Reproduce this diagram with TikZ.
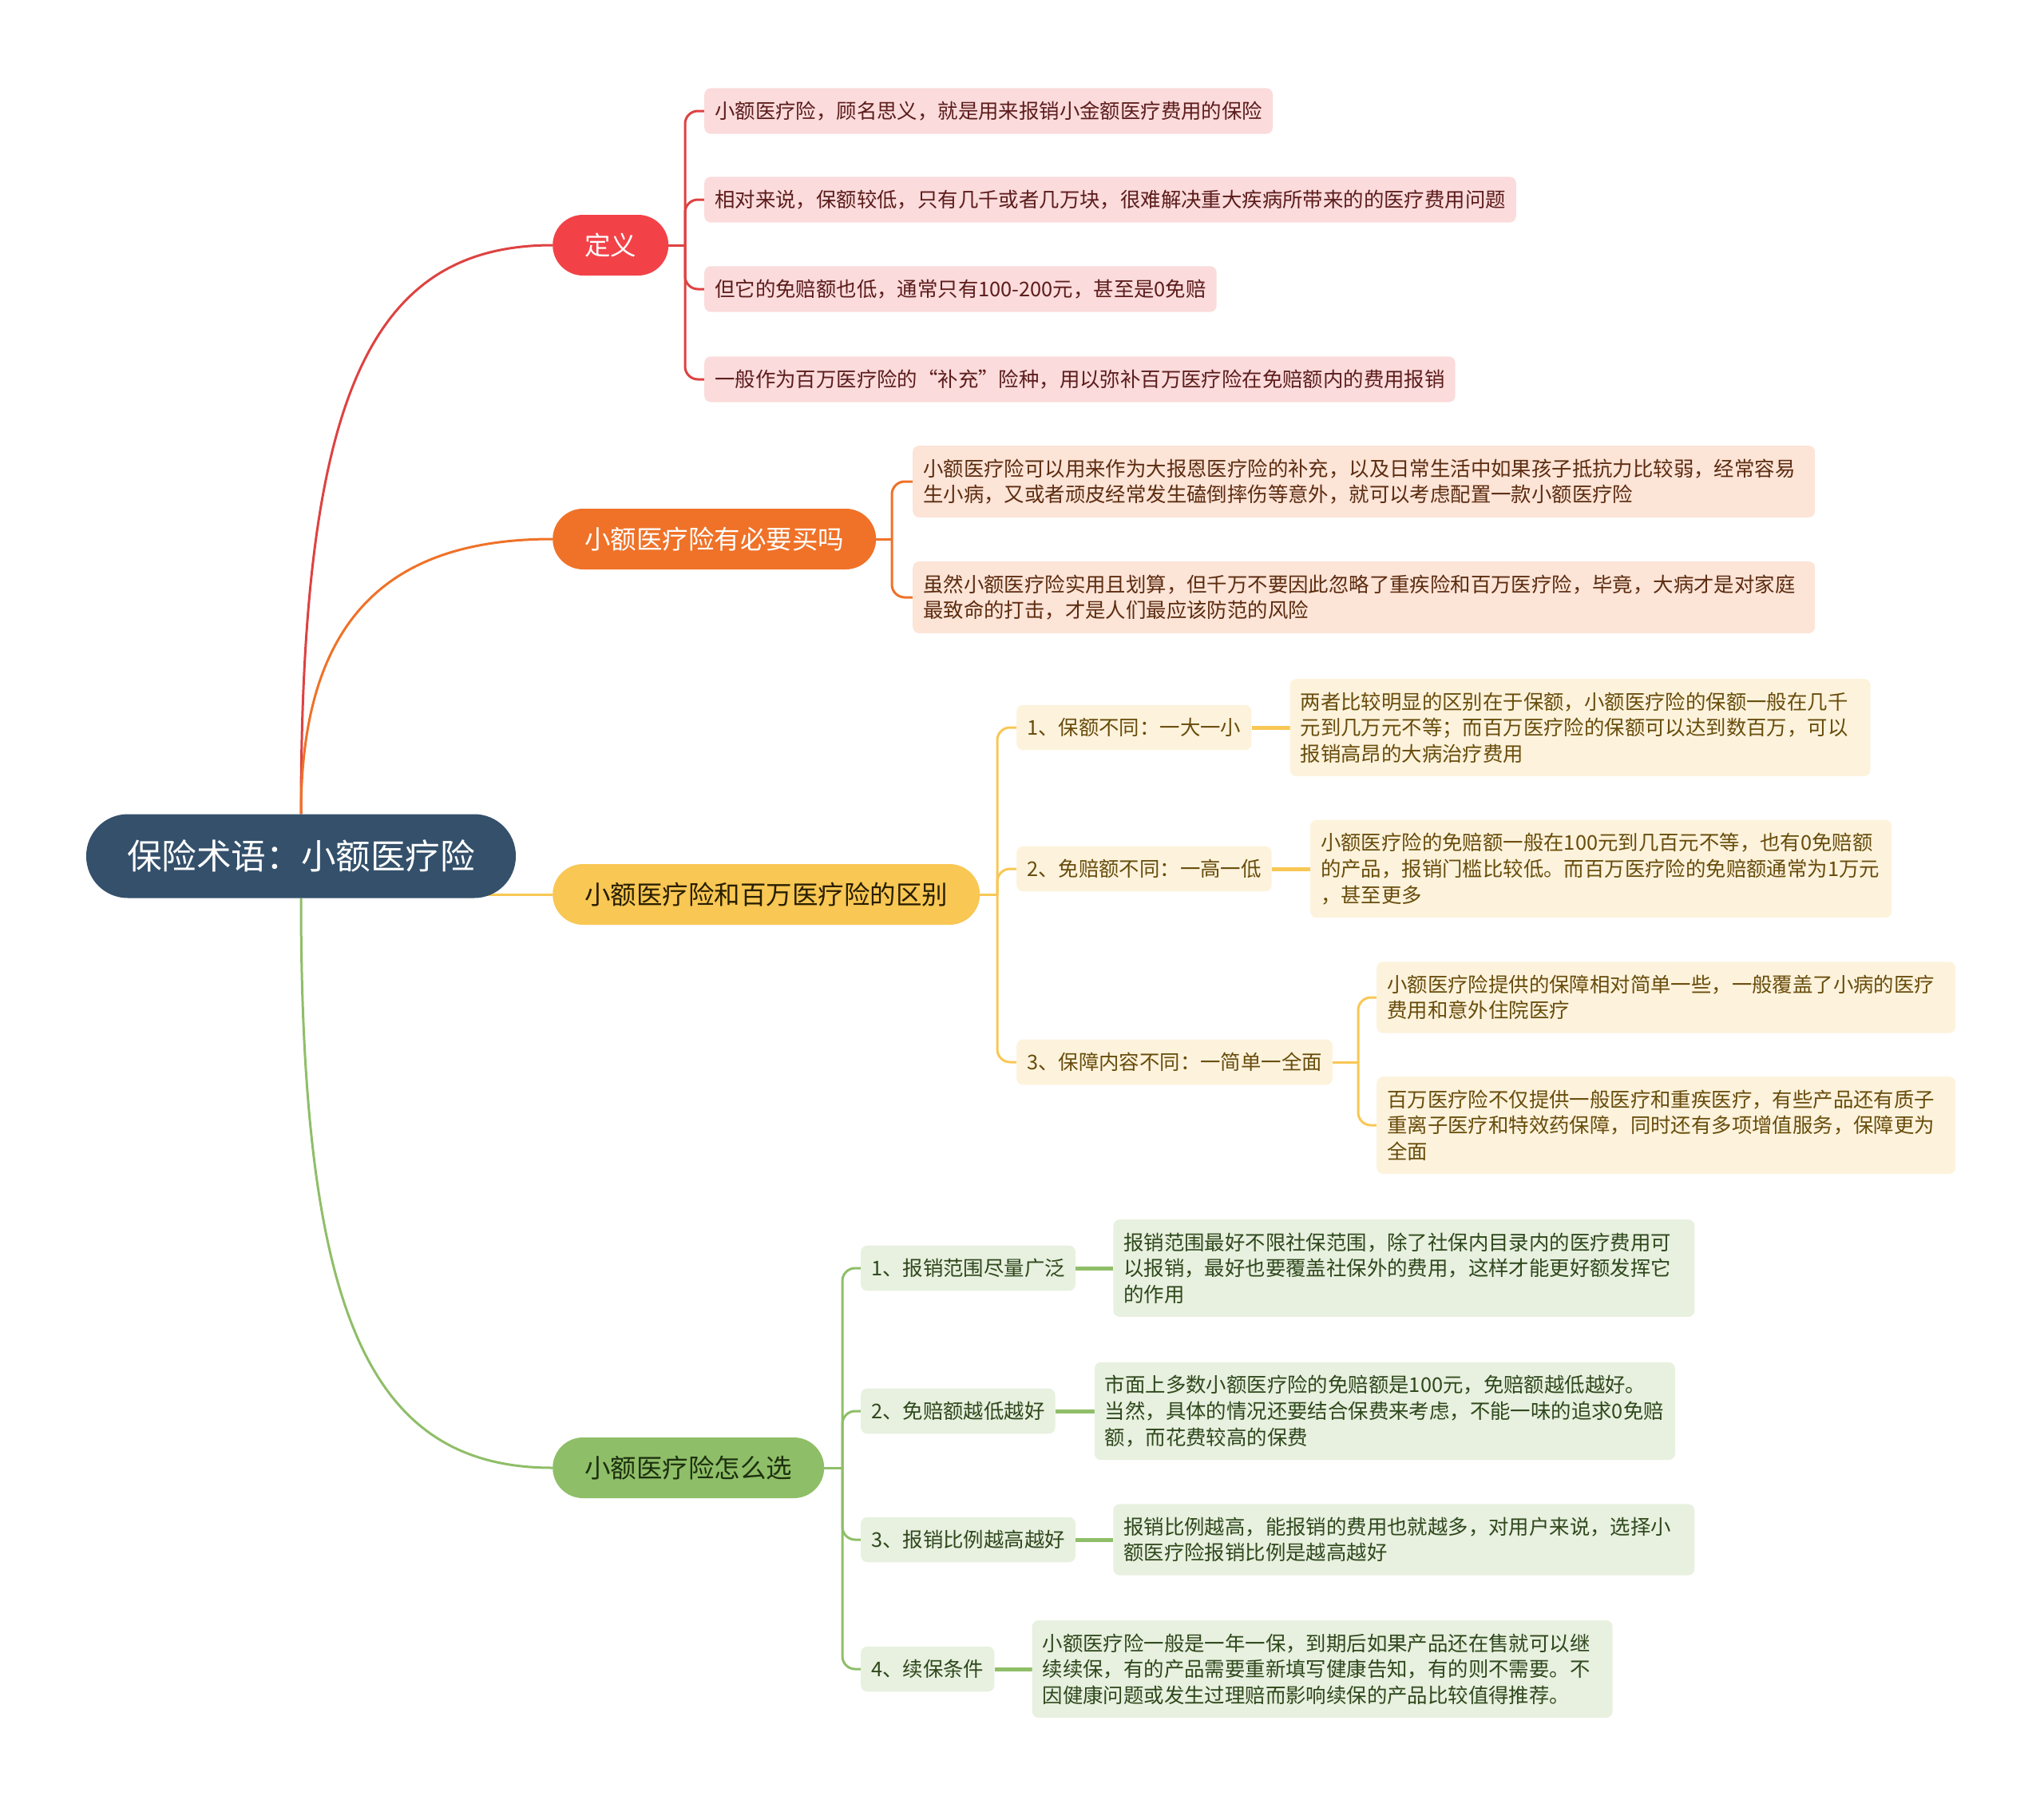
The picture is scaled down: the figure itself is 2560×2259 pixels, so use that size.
\documentclass[tikz,border=0pt]{standalone}
\usepackage{fontspec}
\setmainfont{Noto Sans CJK SC}
\usepackage{tikz}
\usetikzlibrary{positioning, backgrounds}
\definecolor{rootblue}{RGB}{52,80,107}
\definecolor{defred}{RGB}{242,66,72}
\definecolor{redline}{RGB}{222,66,66}
\definecolor{redfill}{RGB}{251,219,219}
\definecolor{redtext}{RGB}{92,28,28}
\definecolor{orgmain}{RGB}{239,114,40}
\definecolor{orgfill}{RGB}{252,228,215}
\definecolor{orgtext}{RGB}{92,44,16}
\definecolor{yelmain}{RGB}{248,199,84}
\definecolor{yelfill}{RGB}{253,243,220}
\definecolor{yeltext}{RGB}{104,76,12}
\definecolor{yeldark}{RGB}{40,30,0}
\definecolor{grnmain}{RGB}{143,190,104}
\definecolor{grnfill}{RGB}{232,240,223}
\definecolor{grntext}{RGB}{46,72,28}
\definecolor{grndark}{RGB}{28,48,14}

\begin{document}
\begin{tikzpicture}[x=1pt, y=-1pt,
    root/.style={rounded corners=52pt, fill=rootblue, text=white, minimum height=105pt, inner xsep=51pt, font=\fontsize{43.6}{52}\selectfont},
    topic/.style={rounded corners=38pt, minimum height=76pt, inner xsep=40pt, anchor=west, font=\fontsize{32.5}{40}\selectfont},
    sub/.style={rounded corners=8pt, inner xsep=13pt, inner ysep=16.5pt, anchor=west, font=\fontsize{25.4}{32.6}\selectfont},
    leaf/.style={sub, align=left},
    link/.style={line width=3pt, rounded corners=16pt},
    twig/.style={line width=5pt},
  ]
  \useasboundingbox (0,0) rectangle (2560,2259);

  \node[root] (root) at (377,1072) {保险术语：小额医疗险};

  \node[topic, fill=defred, text=white] (dy) at (692,307) {定义};
  \node[topic, fill=orgmain, text=white] (bmm) at (692,675) {小额医疗险有必要买吗};
  \node[topic, fill=yelmain, text=yeldark] (qb) at (692,1120) {小额医疗险和百万医疗险的区别};
  \node[topic, fill=grnmain, text=grndark] (zmx) at (692,1838) {小额医疗险怎么选};

  \node[leaf, fill=redfill, text=redtext] (dy1) at (882,139) {小额医疗险，顾名思义，就是用来报销小金额医疗费用的保险};
  \node[leaf, fill=redfill, text=redtext] (dy2) at (882,250) {相对来说，保额较低，只有几千或者几万块，很难解决重大疾病所带来的的医疗费用问题};
  \node[leaf, fill=redfill, text=redtext] (dy3) at (882,362) {但它的免赔额也低，通常只有100-200元，甚至是0免赔};
  \node[leaf, fill=redfill, text=redtext] (dy4) at (882,475) {一般作为百万医疗险的“补充”险种，用以弥补百万医疗险在免赔额内的费用报销};

  \node[leaf, fill=orgfill, text=orgtext, text width=1104pt] (bmm1) at (1143,603) {小额医疗险可以用来作为大报恩医疗险的补充，以及日常生活中如果孩子抵抗力比较弱，经常容易\\生小病，又或者顽皮经常发生磕倒摔伤等意外，就可以考虑配置一款小额医疗险};
  \node[leaf, fill=orgfill, text=orgtext, text width=1104pt] (bmm2) at (1143,748) {虽然小额医疗险实用且划算，但千万不要因此忽略了重疾险和百万医疗险，毕竟，大病才是对家庭\\最致命的打击，才是人们最应该防范的风险};

  \node[sub, fill=yelfill, text=yeltext] (qb1) at (1273,911) {1、保额不同：一大一小};
  \node[sub, fill=yelfill, text=yeltext] (qb2) at (1273,1088) {2、免赔额不同：一高一低};
  \node[sub, fill=yelfill, text=yeltext] (qb3) at (1273,1330) {3、保障内容不同：一简单一全面};
  \node[leaf, fill=yelfill, text=yeltext, text width=701pt, right=48pt of qb1] (qb1a) {两者比较明显的区别在于保额，小额医疗险的保额一般在几千\\元到几万元不等；而百万医疗险的保额可以达到数百万，可以\\报销高昂的大病治疗费用};
  \node[leaf, fill=yelfill, text=yeltext, text width=702pt, right=48pt of qb2] (qb2a) {小额医疗险的免赔额一般在100元到几百元不等，也有0免赔额\\的产品，报销门槛比较低。而百万医疗险的免赔额通常为1万元\\，甚至更多};
  \node[leaf, fill=yelfill, text=yeltext, text width=699pt] (qb3a) at (1724,1249) {小额医疗险提供的保障相对简单一些，一般覆盖了小病的医疗\\费用和意外住院医疗};
  \node[leaf, fill=yelfill, text=yeltext, text width=699pt] (qb3b) at (1724,1409) {百万医疗险不仅提供一般医疗和重疾医疗，有些产品还有质子\\重离子医疗和特效药保障，同时还有多项增值服务，保障更为\\全面};

  \node[sub, fill=grnfill, text=grntext] (zmx1) at (1078,1588) {1、报销范围尽量广泛};
  \node[sub, fill=grnfill, text=grntext] (zmx2) at (1078,1767) {2、免赔额越低越好};
  \node[sub, fill=grnfill, text=grntext] (zmx3) at (1078,1928) {3、报销比例越高越好};
  \node[sub, fill=grnfill, text=grntext] (zmx4) at (1078,2090) {4、续保条件};
  \node[leaf, fill=grnfill, text=grntext, text width=702pt, right=47pt of zmx1] (zmx1a) {报销范围最好不限社保范围，除了社保内目录内的医疗费用可\\以报销，最好也要覆盖社保外的费用，这样才能更好额发挥它\\的作用};
  \node[leaf, fill=grnfill, text=grntext, text width=701pt, right=49pt of zmx2] (zmx2a) {市面上多数小额医疗险的免赔额是100元，免赔额越低越好。\\当然，具体的情况还要结合保费来考虑，不能一味的追求0免赔\\额，而花费较高的保费};
  \node[leaf, fill=grnfill, text=grntext, text width=702pt, right=47pt of zmx3] (zmx3a) {报销比例越高，能报销的费用也就越多，对用户来说，选择小\\额医疗险报销比例是越高越好};
  \node[leaf, fill=grnfill, text=grntext, text width=701pt, right=47pt of zmx4] (zmx4a) {小额医疗险一般是一年一保，到期后如果产品还在售就可以继\\续续保，有的产品需要重新填写健康告知，有的则不需要。不\\因健康问题或发生过理赔而影响续保的产品比较值得推荐。};

  \begin{scope}[on background layer]
    \draw[link, redline] (root.north) .. controls +(0,-520) and +(-230,0) .. (dy.west);
    \draw[link, orgmain] (root.north) .. controls +(0,-250) and +(-200,0) .. (bmm.west);
    \draw[link, yelmain] (root.center |- qb.west) -- (qb.west);
    \draw[link, grnmain] (root.south) .. controls +(0,520) and +(-230,0) .. (zmx.west);

    \coordinate (dyk) at (858,307);
    \draw[link, redline] (dy.east) -- (dyk);
    \foreach \n in {dy1,dy2,dy3,dy4}
      \draw[link, redline] (dyk) |- (\n.west);

    \coordinate (bmmk) at (1117,675);
    \draw[link, orgmain] (bmm.east) -- (bmmk);
    \foreach \n in {bmm1,bmm2}
      \draw[link, orgmain] (bmmk) |- (\n.west);

    \coordinate (qbk) at (1249,1120);
    \draw[link, yelmain] (qb.east) -- (qbk);
    \foreach \n in {qb1,qb2,qb3}
      \draw[link, yelmain] (qbk) |- (\n.west);
    \draw[twig, yelmain] (qb1.east) -- (qb1a.west);
    \draw[twig, yelmain] (qb2.east) -- (qb2a.west);
    \coordinate (qb3k) at (1701,1330);
    \draw[link, yelmain] (qb3.east) -- (qb3k);
    \foreach \n in {qb3a,qb3b}
      \draw[link, yelmain] (qb3k) |- (\n.west);

    \coordinate (zmxk) at (1055,1838);
    \draw[link, grnmain] (zmx.east) -- (zmxk);
    \foreach \n in {zmx1,zmx2,zmx3,zmx4}
      \draw[link, grnmain] (zmxk) |- (\n.west);
    \foreach \n in {zmx1,zmx2,zmx3,zmx4}
      \draw[twig, grnmain] (\n.east) -- (\n a.west);
  \end{scope}
\end{tikzpicture}
\end{document}
